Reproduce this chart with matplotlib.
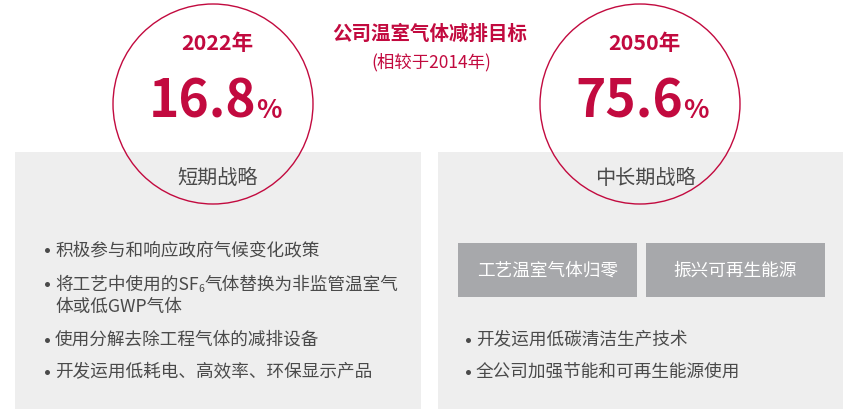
import matplotlib.pyplot as plt
from matplotlib.patches import Circle, Rectangle

plt.rcParams['font.family'] = ['Noto Sans CJK SC', 'DejaVu Sans']

# data
title = "公司温室气体减排目标"
subtitle = "(相较于2014年)"
years = ["2022年", "2050年"]
targets = [16.8, 75.6]
strategies = ["短期战略", "中长期战略"]
left_items = ["积极参与和响应政府气候变化政策",
              ["将工艺中使用的SF", "6", "气体替换为非监管温室气"],
              "体或低GWP气体",
              "使用分解去除工程气体的减排设备",
              "开发运用低耗电、高效率、环保显示产品"]
left_bullets = [True, True, False, True, True]
right_tags = ["工艺温室气体归零", "振兴可再生能源"]
right_items = ["开发运用低碳清洁生产技术", "全公司加强节能和可再生能源使用"]

red = '#c20a3f'
grey_txt = '#4a4a4a'
panel = '#eeeeee'
fs = 12.7

W, H = 847, 410
fig = plt.figure(figsize=(W / 100, H / 100), dpi=100)
ax = fig.add_axes([0, 0, 1, 1])
ax.set_xlim(0, W)
ax.set_ylim(H, 0)
ax.axis('off')
fig.canvas.draw()
rend = fig.canvas.get_renderer()


def width_of(t):
    bb = t.get_window_extent(renderer=rend)
    inv = ax.transData.inverted()
    (x0, _), (x1, _) = inv.transform([(bb.x0, 0), (bb.x1, 0)])
    return x1 - x0


def pieces(x, y, parts, center=False):
    # parts: (text, size, weight, color, dy)
    objs = []
    for s, size, wt, col, dy in parts:
        objs.append(ax.text(0, y + dy, s, fontsize=size, fontweight=wt, color=col,
                            ha='left', va='baseline'))
    ws = [width_of(o) for o in objs]
    cx = x - sum(ws) / 2 if center else x
    for o, w in zip(objs, ws):
        o.set_x(cx)
        cx += w


def bullet(x, y):
    ax.plot(x, y, 'o', ms=3.6, color=grey_txt, mec='none')


# panels
ax.add_patch(Rectangle((15, 153), 406, 257, color=panel, lw=0))
ax.add_patch(Rectangle((438, 153), 405, 257, color=panel, lw=0))

# circles
centers = [213, 640]
for cx, yr, val, st in zip(centers, years, targets, strategies):
    ax.add_patch(Circle((cx, 105), 100, fill=False, ec=red, lw=1.0))
    ax.text(cx + 4, 44, yr, fontsize=15.5, fontweight='bold', color=red, ha='center', va='center')
    pieces(cx + 2, 118, [(f"{val:.1f}", 37, 'bold', red, 0), ("%", 19, 'bold', red, 0)], center=True)
    ax.text(cx + 5, 178, st, fontsize=14.5, color=grey_txt, ha='center', va='center')

ax.text(430, 34, title, fontsize=14, fontweight='bold', color=red, ha='center', va='center')
ax.text(431, 62, subtitle, fontsize=12.5, color=red, ha='center', va='center')

# left bullets
ys = [250, 284, 307, 340, 372]
for y, item, b in zip(ys, left_items, left_bullets):
    if b:
        bullet(47, y + 1)
    if isinstance(item, list):
        pieces(55, y + 6, [(item[0], fs, 'normal', grey_txt, 0),
                           (item[1], 7.5, 'normal', grey_txt, 2),
                           (item[2], fs, 'normal', grey_txt, 0)])
    else:
        ax.text(55, y, item, fontsize=fs, color=grey_txt, ha='left', va='center')

# right tags
for x0, tag in zip([458, 646], right_tags):
    ax.add_patch(Rectangle((x0, 244), 179, 54, color='#a7a8ab', lw=0))
    ax.text(x0 + 89.5, 271, tag, fontsize=fs, color='white', ha='center', va='center')

for y, item in zip([340, 372], right_items):
    bullet(468, y + 1)
    ax.text(476, y, item, fontsize=fs, color=grey_txt, ha='left', va='center')

fig.savefig('out.png', dpi=100)
